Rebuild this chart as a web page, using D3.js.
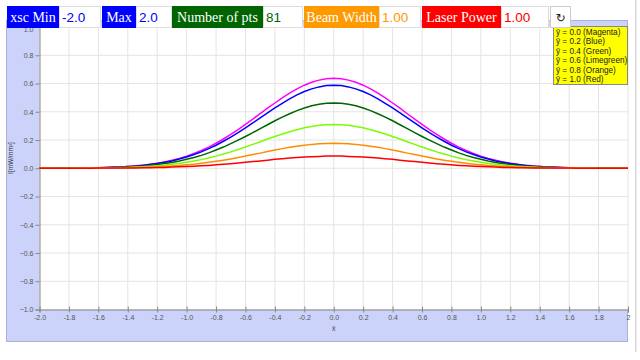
<!DOCTYPE html>
<html><head><meta charset="utf-8">
<script src="https://cdn.jsdelivr.net/npm/d3@7"></script>
<style>html,body{margin:0;padding:0;background:#fff;overflow:hidden}</style>
</head><body>
<script>
const xValues = [-2,-1.95,-1.9,-1.85,-1.8,-1.75,-1.7,-1.65,-1.6,-1.55,-1.5,-1.45,-1.4,-1.35,-1.3,-1.25,-1.2,-1.15,-1.1,-1.05,-1,-0.95,-0.9,-0.85,-0.8,-0.75,-0.7,-0.65,-0.6,-0.55,-0.5,-0.45,-0.4,-0.35,-0.3,-0.25,-0.2,-0.15,-0.1,-0.05,0,0.05,0.1,0.15,0.2,0.25,0.3,0.35,0.4,0.45,0.5,0.55,0.6,0.65,0.7,0.75,0.8,0.85,0.9,0.95,1,1.05,1.1,1.15,1.2,1.25,1.3,1.35,1.4,1.45,1.5,1.55,1.6,1.65,1.7,1.75,1.8,1.85,1.9,1.95,2];
const magenta = [0,0,0,0.001,0.001,0.001,0.002,0.003,0.004,0.005,0.007,0.009,0.013,0.017,0.022,0.028,0.036,0.045,0.057,0.070,0.086,0.105,0.126,0.150,0.177,0.207,0.239,0.273,0.310,0.348,0.386,0.425,0.462,0.498,0.532,0.562,0.588,0.609,0.624,0.633,0.637,0.633,0.624,0.609,0.588,0.562,0.532,0.498,0.462,0.425,0.386,0.348,0.310,0.273,0.239,0.207,0.177,0.150,0.126,0.105,0.086,0.070,0.057,0.045,0.036,0.028,0.022,0.017,0.013,0.009,0.007,0.005,0.004,0.003,0.002,0.001,0.001,0.001,0,0,0];
const blue = [0,0,0,0.001,0.001,0.001,0.002,0.003,0.004,0.005,0.007,0.009,0.012,0.015,0.020,0.026,0.033,0.042,0.052,0.065,0.080,0.097,0.116,0.139,0.163,0.191,0.221,0.252,0.286,0.321,0.356,0.392,0.427,0.460,0.491,0.519,0.543,0.562,0.576,0.585,0.588,0.585,0.576,0.562,0.543,0.519,0.491,0.460,0.427,0.392,0.356,0.321,0.286,0.252,0.221,0.191,0.163,0.139,0.116,0.097,0.080,0.065,0.052,0.042,0.033,0.026,0.020,0.015,0.012,0.009,0.007,0.005,0.004,0.003,0.002,0.001,0.001,0.001,0,0,0];
const green = [0,0,0,0,0.001,0.001,0.001,0.002,0.003,0.004,0.005,0.007,0.009,0.012,0.016,0.020,0.026,0.033,0.041,0.051,0.063,0.076,0.091,0.109,0.129,0.150,0.174,0.199,0.225,0.252,0.280,0.308,0.336,0.362,0.386,0.408,0.427,0.442,0.453,0.460,0.462,0.460,0.453,0.442,0.427,0.408,0.386,0.362,0.336,0.308,0.280,0.252,0.225,0.199,0.174,0.150,0.129,0.109,0.091,0.076,0.063,0.051,0.041,0.033,0.026,0.020,0.016,0.012,0.009,0.007,0.005,0.004,0.003,0.002,0.001,0.001,0.001,0,0,0,0];
const limegreen = [0,0,0,0,0,0.001,0.001,0.001,0.002,0.003,0.003,0.005,0.006,0.008,0.011,0.014,0.017,0.022,0.028,0.034,0.042,0.051,0.061,0.073,0.086,0.101,0.116,0.133,0.151,0.169,0.188,0.207,0.225,0.243,0.259,0.273,0.286,0.296,0.304,0.308,0.310,0.308,0.304,0.296,0.286,0.273,0.259,0.243,0.225,0.207,0.188,0.169,0.151,0.133,0.116,0.101,0.086,0.073,0.061,0.051,0.042,0.034,0.028,0.022,0.017,0.014,0.011,0.008,0.006,0.005,0.003,0.003,0.002,0.001,0.001,0.001,0,0,0,0,0];
const orange = [0,0,0,0,0,0,0.001,0.001,0.001,0.001,0.002,0.003,0.004,0.005,0.006,0.008,0.010,0.013,0.016,0.020,0.024,0.029,0.035,0.042,0.049,0.057,0.066,0.076,0.086,0.097,0.107,0.118,0.129,0.139,0.148,0.156,0.163,0.169,0.173,0.176,0.177,0.176,0.173,0.169,0.163,0.156,0.148,0.139,0.129,0.118,0.107,0.097,0.086,0.076,0.066,0.057,0.049,0.042,0.035,0.029,0.024,0.020,0.016,0.013,0.010,0.008,0.006,0.005,0.004,0.003,0.002,0.001,0.001,0.001,0.001,0,0,0,0,0,0];
const red = [0,0,0,0,0,0,0,0,0.001,0.001,0.001,0.001,0.002,0.002,0.003,0.004,0.005,0.006,0.008,0.010,0.012,0.014,0.017,0.020,0.024,0.028,0.032,0.037,0.042,0.047,0.052,0.057,0.063,0.067,0.072,0.076,0.080,0.082,0.084,0.086,0.086,0.086,0.084,0.082,0.080,0.076,0.072,0.067,0.063,0.057,0.052,0.047,0.042,0.037,0.032,0.028,0.024,0.020,0.017,0.014,0.012,0.010,0.008,0.006,0.005,0.004,0.003,0.002,0.002,0.001,0.001,0.001,0.001,0,0,0,0,0,0,0,0];
const seriesNames = ["ȳ = 0.0 (Magenta)","ȳ = 0.2 (Blue)","ȳ = 0.4 (Green)","ȳ = 0.6 (Limegreen)","ȳ = 0.8 (Orange)","ȳ = 1.0 (Red)"];
const seriesValues = [magenta, blue, green, limegreen, orange, red];
const seriesColors = ["#ff00ff","#0000ff","#006400","#7cfc00","#ff8c00","#ff0000"];
const xTickValues = [-2,-1.8,-1.6,-1.4,-1.2,-1,-0.8,-0.6,-0.4,-0.2,0,0.2,0.4,0.6,0.8,1,1.2,1.4,1.6,1.8,2];
const xTickLabels = ["-2.0","-1.8","-1.6","-1.4","-1.2","-1.0","-0.8","-0.6","-0.4","-0.2","0.0","0.2","0.4","0.6","0.8","1.0","1.2","1.4","1.6","1.8","2"];
const yTickValues = [-1,-0.8,-0.6,-0.4,-0.2,0,0.2,0.4,0.6,0.8,1];
const controlLabels = ["xsc Min","Max","Number of pts","Beam Width","Laser Power"];
const controlValues = ["-2.0","2.0","81","1.00","1.00"];
const controlColors = ["#0000ff","#0000ff","#006400","#ff9900","#ff0000"];

const W = 640, H = 360;
const svg = d3.select("body").append("svg").attr("width", W).attr("height", H);

// scrollbar line
svg.append("rect").attr("x", 635).attr("y", 0).attr("width", 1.5).attr("height", 352).attr("fill", "#d8d8d8");

// panel background
svg.append("rect").attr("x", 6.5).attr("y", 20.5).attr("width", 621).attr("height", 321)
  .attr("fill", "#ccd3fb").attr("stroke", "#aab0d8").attr("stroke-width", 1);

const pLeft = 39.5, pRight = 628, pTop = 27, pBottom = 309.5;
const x = d3.scaleLinear().domain([-2, 2]).range([pLeft, pRight]);
const y = d3.scaleLinear().domain([-1, 1]).range([pBottom, pTop]);

svg.append("rect").attr("x", pLeft).attr("y", pTop).attr("width", pRight - pLeft).attr("height", pBottom - pTop).attr("fill", "#fff");

// grid
svg.append("g").selectAll("line").data(xTickValues).join("line")
  .attr("x1", d => x(d)).attr("x2", d => x(d)).attr("y1", pTop).attr("y2", pBottom)
  .attr("stroke", "#e4e4e4").attr("stroke-width", 1);
svg.append("g").selectAll("line").data(yTickValues).join("line")
  .attr("x1", pLeft).attr("x2", pRight).attr("y1", d => y(d)).attr("y2", d => y(d))
  .attr("stroke", "#e4e4e4").attr("stroke-width", 1);

// axes
const xAxis = svg.append("g").attr("transform", `translate(0,${pBottom})`)
  .call(d3.axisBottom(x).tickValues(xTickValues).tickFormat((d, i) => xTickLabels[i]).tickSize(3).tickPadding(3));
const yAxis = svg.append("g").attr("transform", `translate(${pLeft},0)`)
  .call(d3.axisLeft(y).tickValues(yTickValues).tickFormat(d3.format(".1f")).tickSize(4).tickPadding(2));
[xAxis, yAxis].forEach(g => {
  g.select(".domain").attr("stroke", "#888");
  g.selectAll(".tick line").attr("stroke", "#888");
  g.selectAll(".tick text").attr("fill", "#555").attr("font-family", "Liberation Sans, Arial, sans-serif").attr("font-size", 7);
});
xAxis.selectAll(".tick line").attr("y1", -3);
yAxis.selectAll(".tick text").filter(d => d === 1).attr("dy", "0.6em");

// lines
const line = d3.line().x((d, i) => x(xValues[i])).y(d => y(d));
svg.append("g").selectAll("path").data(seriesValues).join("path")
  .attr("d", d => line(d)).attr("fill", "none")
  .attr("stroke", (d, i) => seriesColors[i]).attr("stroke-width", 1.5);

// axis titles
svg.append("text").attr("transform", "translate(13,158) rotate(-90)").attr("text-anchor", "middle")
  .attr("font-family", "Liberation Sans, Arial, sans-serif").attr("font-size", 6.5).attr("fill", "#333")
  .text("I[mW/mm²]");
svg.append("text").attr("x", x(0)).attr("y", 331).attr("text-anchor", "middle")
  .attr("font-family", "Liberation Sans, Arial, sans-serif").attr("font-size", 7).attr("fill", "#444")
  .text("x̄");

// legend
const lg = svg.append("g");
lg.append("rect").attr("x", 553.5).attr("y", 26.5).attr("width", 74).attr("height", 58)
  .attr("fill", "#ffff00").attr("stroke", "#888");
lg.selectAll("text").data(seriesNames).join("text")
  .attr("x", 556).attr("y", (d, i) => 34.5 + i * 9.5)
  .attr("font-family", "Liberation Sans, Arial, sans-serif").attr("font-size", 8.2).attr("fill", "#222")
  .text(d => d);

// toolbar
const tb = svg.append("g");
const boxes = [
  {lx: 7, lw: 52, vw: 42},
  {lx: 102, lw: 34, vw: 36},
  {lx: 172, lw: 91, vw: 40},
  {lx: 304, lw: 75, vw: 42},
  {lx: 422, lw: 79, vw: 48}
];
boxes.forEach((b, i) => {
  tb.append("rect").attr("x", b.lx).attr("y", 6).attr("width", b.lw).attr("height", 22).attr("fill", controlColors[i]);
  tb.append("text").attr("x", b.lx + b.lw / 2).attr("y", 22).attr("text-anchor", "middle")
    .attr("font-family", "Liberation Serif, Times New Roman, serif").attr("font-size", 14).attr("fill", "#fff")
    .text(controlLabels[i]);
  tb.append("rect").attr("x", b.lx + b.lw + 0.5).attr("y", 6.5).attr("width", b.vw - 1).attr("height", 21)
    .attr("fill", "#fff").attr("stroke", "#dddddd");
  tb.append("text").attr("x", b.lx + b.lw + 3).attr("y", 22).attr("font-family", "Liberation Sans, Arial, sans-serif")
    .attr("font-size", 13.5).attr("fill", controlColors[i]).text(controlValues[i]);
});
tb.append("rect").attr("x", 550.5).attr("y", 6.5).attr("width", 20).attr("height", 21).attr("fill", "#fff").attr("stroke", "#cccccc");
tb.append("text").attr("x", 560.5).attr("y", 22).attr("text-anchor", "middle").attr("font-family", "DejaVu Sans, sans-serif")
  .attr("font-size", 12).attr("fill", "#222").text("↻");
</script>
</body></html>
